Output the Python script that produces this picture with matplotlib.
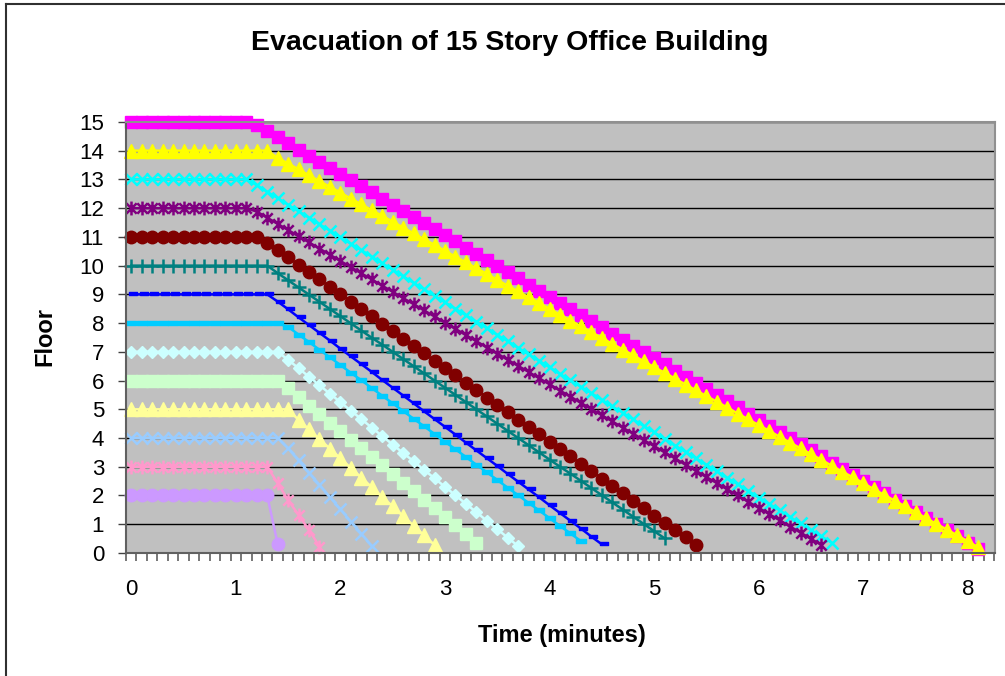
import numpy as np
import matplotlib.pyplot as plt
from matplotlib.path import Path
from matplotlib.lines import Line2D

plt.rcParams['font.family'] = ['Liberation Sans', 'DejaVu Sans']

# time step between points (minutes)
step = 0.1

# floor position of each group, one value per 0.1 min
fl15 = [15] * 12 + [14.90, 14.69, 14.47, 14.26, 14.04, 13.83, 13.62, 13.40, 13.19, 12.98,
                    12.76, 12.55, 12.33, 12.12, 11.91, 11.69, 11.48, 11.27, 11.05, 10.84,
                    10.62, 10.41, 10.20, 9.98, 9.77, 9.56, 9.34, 9.13, 8.91, 8.70,
                    8.49, 8.27, 8.06, 7.85, 7.63, 7.42, 7.20, 6.99, 6.78, 6.56,
                    6.35, 6.14, 5.92, 5.71, 5.49, 5.28, 5.07, 4.85, 4.64, 4.42,
                    4.21, 4.00, 3.78, 3.57, 3.36, 3.14, 2.93, 2.71, 2.50, 2.29,
                    2.07, 1.86, 1.65, 1.43, 1.22, 1.00, 0.79, 0.58, 0.36, 0.15]
fl14 = [14] * 14 + [13.75, 13.55, 13.35, 13.14, 12.94, 12.74, 12.54, 12.33, 12.13, 11.93,
                    11.73, 11.53, 11.32, 11.12, 10.92, 10.72, 10.51, 10.31, 10.11, 9.91,
                    9.71, 9.50, 9.30, 9.10, 8.90, 8.70, 8.49, 8.29, 8.09, 7.89,
                    7.68, 7.48, 7.28, 7.08, 6.88, 6.67, 6.47, 6.27, 6.07, 5.86,
                    5.66, 5.46, 5.26, 5.06, 4.85, 4.65, 4.45, 4.25, 4.04, 3.84,
                    3.64, 3.44, 3.24, 3.03, 2.83, 2.63, 2.43, 2.22, 2.02, 1.82,
                    1.62, 1.42, 1.21, 1.01, 0.81, 0.61, 0.40, 0.20]
fl13 = [13] * 12 + [12.80, 12.57, 12.35, 12.12, 11.89, 11.67, 11.44, 11.22, 10.99, 10.76,
                    10.54, 10.31, 10.08, 9.86, 9.63, 9.40, 9.18, 8.95, 8.72, 8.50,
                    8.27, 8.05, 7.82, 7.59, 7.37, 7.14, 6.91, 6.69, 6.46, 6.23,
                    6.01, 5.78, 5.56, 5.33, 5.10, 4.88, 4.65, 4.42, 4.20, 3.97,
                    3.74, 3.52, 3.29, 3.07, 2.84, 2.61, 2.39, 2.16, 1.93, 1.71,
                    1.48, 1.25, 1.03, 0.80, 0.58, 0.35]
fl12 = [12] * 12 + [11.88, 11.67, 11.45, 11.24, 11.02, 10.81, 10.59, 10.38, 10.16, 9.95,
                    9.73, 9.52, 9.30, 9.09, 8.87, 8.66, 8.44, 8.23, 8.01, 7.80,
                    7.58, 7.37, 7.15, 6.94, 6.72, 6.51, 6.30, 6.08, 5.87, 5.65,
                    5.44, 5.22, 5.01, 4.79, 4.58, 4.36, 4.15, 3.93, 3.72, 3.50,
                    3.29, 3.07, 2.86, 2.64, 2.43, 2.21, 2.00, 1.78, 1.57, 1.35,
                    1.14, 0.92, 0.71, 0.49, 0.28]
fl11 = [11] * 13 + [10.80, 10.54, 10.29, 10.03, 9.77, 9.52, 9.26, 9.00, 8.75, 8.49,
                    8.23, 7.98, 7.72, 7.46, 7.21, 6.95, 6.69, 6.44, 6.18, 5.92,
                    5.67, 5.41, 5.15, 4.90, 4.64, 4.38, 4.13, 3.87, 3.61, 3.36,
                    3.10, 2.84, 2.59, 2.33, 2.07, 1.82, 1.56, 1.30, 1.05, 0.79,
                    0.54, 0.28]
fl10 = [10] * 14 + [9.74, 9.49, 9.24, 8.99, 8.74, 8.49, 8.24, 7.99, 7.74, 7.49,
                    7.25, 7.00, 6.75, 6.50, 6.25, 6.00, 5.75, 5.50, 5.25, 5.00,
                    4.75, 4.50, 4.25, 4.00, 3.75, 3.50, 3.25, 3.00, 2.76, 2.51,
                    2.26, 2.01, 1.76, 1.51, 1.26, 1.01, 0.76, 0.51]
fl9 = [9] * 14 + [8.75, 8.48, 8.20, 7.93, 7.66, 7.39, 7.11, 6.84, 6.57, 6.30,
                  6.02, 5.75, 5.48, 5.21, 4.93, 4.66, 4.39, 4.12, 3.84, 3.57,
                  3.30, 3.03, 2.75, 2.48, 2.21, 1.94, 1.66, 1.39, 1.12, 0.85,
                  0.57, 0.30]
fl8 = [8] * 15 + [7.87, 7.60, 7.34, 7.07, 6.81, 6.54, 6.27, 6.01, 5.74, 5.47,
                  5.21, 4.94, 4.67, 4.41, 4.14, 3.87, 3.61, 3.34, 3.07, 2.81,
                  2.54, 2.27, 2.01, 1.74, 1.48, 1.21, 0.94, 0.68, 0.41]
fl7 = [7] * 15 + [6.72, 6.43, 6.13, 5.84, 5.54, 5.25, 4.95, 4.66, 4.36, 4.07,
                  3.77, 3.48, 3.19, 2.89, 2.60, 2.30, 2.01, 1.71, 1.42, 1.12,
                  0.83, 0.53, 0.24]
fl6 = [6] * 15 + [5.73, 5.43, 5.13, 4.84, 4.54, 4.24, 3.94, 3.64, 3.34, 3.05,
                  2.75, 2.45, 2.15, 1.85, 1.55, 1.26, 0.96, 0.66, 0.36]
fl5 = [5] * 16 + [4.63, 4.30, 3.96, 3.63, 3.29, 2.96, 2.62, 2.29, 1.95, 1.62,
                  1.28, 0.95, 0.61, 0.28]
fl4 = [4] * 15 + [3.64, 3.22, 2.79, 2.37, 1.94, 1.52, 1.09, 0.67, 0.24]
fl3 = [3] * 14 + [2.43, 1.84, 1.32, 0.80, 0.22]
fl2 = [2] * 14 + [0.31]

x_labels = ['0', '1', '2', '3', '4', '5', '6', '7', '8']
floors = list(range(16))

# custom excel-like markers
M, L, C = Path.MOVETO, Path.LINETO, Path.CLOSEPOLY
star = Path([(0, -1), (0, 1), (-0.75, -0.75), (0.75, 0.75), (-0.75, 0.75), (0.75, -0.75)],
            [M, L, M, L, M, L])
short_dash = Path([(-0.4, -0.1), (1, -0.1), (1, 0.4), (-0.4, 0.4), (-0.4, -0.1)],
                  [M, L, L, L, C])
long_dash = Path([(-1, -0.45), (1, -0.45), (1, 0.45), (-1, 0.45), (-1, -0.45)],
                 [M, L, L, L, C])

# values, color, marker, size, edge width
series = [
    (fl15, '#FF00FF', 's', 8.6, 1),
    (fl14, '#FFFF00', '^', 9.8, 1),
    (fl13, '#00FFFF', 'x', 9, 1.8),
    (fl12, '#800080', star, 10, 1.8),
    (fl11, '#800000', 'o', 9, 1),
    (fl10, '#008080', '+', 10, 1.8),
    (fl9, '#0000FF', short_dash, 9, 1),
    (fl8, '#00CCFF', long_dash, 7.6, 1),
    (fl7, '#CCFFFF', 'D', 6.6, 1),
    (fl6, '#CCFFCC', 's', 8.6, 1),
    (fl5, '#FFFF99', '^', 9.8, 1),
    (fl4, '#99CCFF', 'x', 9, 1.8),
    (fl3, '#FF99CC', star, 10, 1.8),
    (fl2, '#CC99FF', 'o', 9, 1),
]

fig = plt.figure(figsize=(10.05, 6.76), dpi=100)
ax = fig.add_axes([0.1254, 0.182, 0.8647, 0.6376])
ax.set_facecolor('#C0C0C0')

for vals, color, marker, ms, mew in series:
    t = np.arange(len(vals)) * step
    ax.plot(t, vals, color=color, lw=1.8, marker=marker, ms=ms,
            mfc=color, mec=color, mew=mew, clip_on=False)

ax.set_xlim(-0.05, 8.26)
ax.set_ylim(0, 15)

ax.set_yticks(floors)
ax.tick_params(axis='y', which='major', length=5.8, width=1, color='#404040',
               labelsize=16, pad=10)
ax.set_xticks(range(len(x_labels)))
ax.set_xticklabels(x_labels)
ax.set_xticks(np.arange(-0.05, 8.3, 0.1), minor=True)
ax.tick_params(axis='x', which='major', length=0, labelsize=16, pad=19)
ax.tick_params(axis='x', which='minor', length=5.5, width=1.2, color='#606060')

ax.yaxis.grid(True, color='black', lw=1)
ax.set_axisbelow(True)
for s in ['top', 'right']:
    ax.spines[s].set_color('#909090')
    ax.spines[s].set_linewidth(1.5)
for s in ['left', 'bottom']:
    ax.spines[s].set_color('#606060')
    ax.spines[s].set_linewidth(1.5)

fig.text(0.5075, 0.936, 'Evacuation of 15 Story Office Building', ha='center', va='center',
         fontsize=20.5, fontweight='bold')
fig.text(0.559, 0.06, 'Time (minutes)', ha='center', va='center', fontsize=17, fontweight='bold')
fig.text(0.0448, 0.5015, 'Floor', ha='center', va='center', rotation=90, fontsize=17,
         fontweight='bold')

# chart border (left and top edges visible)
fig.add_artist(Line2D([6 / 1005, 6 / 1005], [0, 1 - 4 / 676], color='#303030', lw=1.5))
fig.add_artist(Line2D([6 / 1005, 1], [1 - 4 / 676, 1 - 4 / 676], color='#303030', lw=1.5))

fig.savefig('out.png', dpi=100)
